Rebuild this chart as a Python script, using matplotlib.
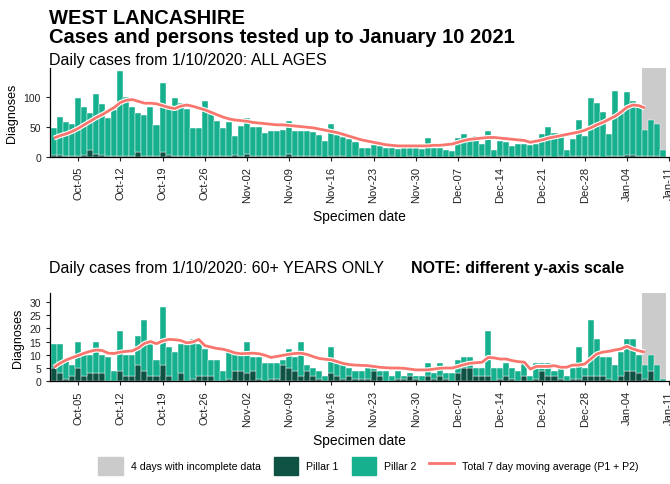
import numpy as np
import pandas as pd
import matplotlib
matplotlib.use("Agg")
import matplotlib.pyplot as plt
import matplotlib.dates as mdates
from matplotlib.patches import Patch
from matplotlib.lines import Line2D

plt.rcParams['font.family'] = ['Liberation Sans', 'DejaVu Sans']

dates = pd.date_range('2020-10-01', '2021-01-10', freq='D')
tick_dates = pd.date_range('2020-10-05', '2021-01-11', freq='7D')
incomplete_start = pd.Timestamp('2021-01-07')
incomplete_end = pd.Timestamp('2021-01-10')

# all ages: total cases (pillar 1 + pillar 2) and pillar 1
all_total = [48, 66, 57, 55, 97, 82, 72, 105, 88, 64, 78, 142, 100, 82, 72, 70, 82, 53, 122, 79,
             97, 90, 79, 48, 48, 92, 71, 60, 48, 57, 34, 51, 64, 50, 50, 40, 43, 42, 44, 59,
             43, 42, 42, 41, 36, 26, 54, 36, 32, 30, 24, 14, 15, 19, 18, 15, 14, 13, 14, 14,
             14, 13, 31, 14, 14, 11, 9, 31, 37, 33, 35, 21, 42, 11, 26, 24, 18, 21, 21, 19,
             21, 37, 50, 40, 38, 12, 29, 61, 34, 97, 89, 74, 38, 110, 75, 108, 92, 85, 44, 61,
             54, 12]
all_p1 = [3, 3, 2, 1, 2, 3, 12, 5, 3, 1, 2, 2, 2, 1, 8, 2, 2, 2, 8, 3,
          2, 2, 1, 0, 1, 1, 1, 1, 2, 1, 3, 1, 4, 1, 1, 1, 1, 1, 2, 4,
          2, 1, 1, 1, 1, 0, 1, 1, 1, 0, 1, 0, 1, 1, 0, 0, 1, 0, 0, 1,
          0, 0, 1, 0, 0, 0, 0, 1, 1, 1, 0, 1, 1, 0, 1, 1, 0, 1, 0, 1,
          0, 1, 1, 0, 1, 0, 1, 2, 1, 1, 1, 0, 1, 2, 1, 3, 3, 1, 1, 1,
          1, 0]
all_ma = [31, 35, 38, 42, 47, 53, 59, 65, 70, 76, 82, 90, 94, 95, 92, 89, 89, 88, 85, 82,
          80, 84, 86, 84, 81, 78, 74, 70, 66, 63, 61, 60, 59, 57, 56, 55, 54, 53, 53, 52,
          51, 50, 49, 48, 46, 44, 42, 40, 37, 34, 31, 28, 26, 24, 22, 20, 19, 18, 18, 18,
          18, 18, 18, 19, 19, 20, 21, 24, 27, 29, 30, 31, 32, 32, 31, 30, 29, 28, 27, 24,
          26, 28, 31, 33, 35, 37, 39, 41, 44, 48, 53, 57, 62, 67, 74, 82, 86, 85, 81]

# 60+ years only
old_total = [14, 14, 8, 6, 15, 10, 10, 15, 10, 9, 4, 19, 10, 10, 17, 23, 14, 8, 28, 13,
             11, 14, 14, 16, 14, 12, 8, 8, 4, 11, 11, 10, 15, 9, 9, 7, 7, 7, 8, 12,
             9, 15, 6, 5, 4, 2, 13, 7, 6, 5, 4, 4, 5, 5, 4, 4, 2, 4, 2, 3,
             2, 2, 7, 3, 7, 3, 3, 8, 9, 9, 5, 5, 19, 5, 5, 7, 5, 4, 7, 2,
             7, 7, 7, 4, 6, 2, 5, 13, 5, 23, 16, 9, 9, 6, 11, 16, 16, 10, 6, 10,
             6, 1]
old_p1 = [5, 3, 1, 2, 5, 2, 3, 3, 3, 0, 0, 4, 2, 2, 6, 4, 2, 2, 6, 2,
          0, 3, 0, 1, 2, 2, 2, 0, 0, 1, 4, 4, 3, 4, 1, 0, 1, 1, 6, 5,
          4, 2, 4, 2, 1, 0, 3, 2, 1, 2, 1, 1, 1, 4, 2, 0, 0, 1, 1, 2,
          1, 0, 2, 1, 2, 1, 0, 3, 5, 5, 2, 2, 2, 0, 1, 2, 1, 0, 2, 0,
          1, 4, 2, 2, 1, 0, 1, 1, 2, 2, 2, 2, 1, 0, 2, 4, 4, 3, 1, 4,
          0, 0]
old_ma = [5.3, 6.8, 8.0, 8.9, 9.7, 10.6, 11.3, 11.8, 11.6, 10.6, 10.5, 11.0, 11.3, 11.5, 12.6, 14.3, 15.0, 14.2, 15.2, 15.8,
          15.7, 15.4, 14.5, 14.8, 15.8, 13.5, 12.9, 12.4, 12.1, 11.5, 10.7, 10.4, 10.5, 10.6, 10.4, 9.8, 9.0, 9.4, 9.8, 10.2,
          10.5, 10.6, 10.1, 9.3, 8.6, 8.3, 8.1, 7.4, 6.7, 6.3, 6.1, 6.0, 5.9, 5.6, 5.3, 5.1, 5.0, 5.0, 4.9, 4.6,
          4.3, 4.3, 4.3, 4.6, 4.9, 5.0, 5.0, 5.6, 6.3, 6.8, 7.0, 7.2, 9.0, 8.8, 8.4, 8.4, 7.8, 7.4, 7.2, 4.6,
          5.6, 5.6, 5.6, 5.9, 5.3, 5.3, 6.1, 6.1, 6.5, 8.4, 10.3, 11.0, 11.3, 11.8, 12.2, 13.2, 12.2, 11.5, 11.0]

p1_col = '#0d5243'
p2_col = '#17b08e'
ma_col = '#f8766d'
grey_col = '#cbcbcb'
txt_col = '#222222'

fig = plt.figure(figsize=(6.7, 4.85), dpi=100)
ax1 = fig.add_axes([0.0746, 0.6748, 0.924, 0.1823])
ax2 = fig.add_axes([0.0746, 0.2118, 0.924, 0.1814])


def draw(ax, total, p1, ma, ymax, yticks):
    p1 = np.array(p1)
    p2 = np.array(total) - p1
    ax.axvspan(incomplete_start - pd.Timedelta(hours=12), incomplete_end + pd.Timedelta(hours=12),
               color=grey_col, lw=0, zorder=0)
    ax.bar(dates, p1, width=1, color=p1_col, edgecolor='white', lw=0.3, zorder=2)
    ax.bar(dates, p2, width=1, bottom=p1, color=p2_col, edgecolor='white', lw=0.3, zorder=2)
    ax.plot(dates[:len(ma)], ma, color='white', lw=3.6, zorder=3, solid_capstyle='butt')
    ax.plot(dates[:len(ma)], ma, color=ma_col, lw=2, zorder=4, solid_capstyle='butt')
    ax.set_xlim(dates[0] - pd.Timedelta(hours=16), dates[0] + pd.Timedelta(days=102))
    ax.set_ylim(0, ymax)
    ax.set_yticks(yticks)
    ax.set_xticks(tick_dates)
    ax.xaxis.set_major_formatter(mdates.DateFormatter('%b-%d'))
    ax.tick_params(axis='x', rotation=90, labelsize=8, colors=txt_col, length=3, width=0.8)
    ax.tick_params(axis='y', labelsize=7.5, colors=txt_col, length=3, width=0.8)
    for s in ['top', 'right']:
        ax.spines[s].set_visible(False)
    for s in ['left', 'bottom']:
        ax.spines[s].set_linewidth(0.9)
    ax.set_ylabel('Diagnoses', fontsize=9, labelpad=4)
    ax.set_xlabel('Specimen date', fontsize=10, labelpad=5)


draw(ax1, all_total, all_p1, all_ma, 147, [0, 50, 100])
draw(ax2, old_total, old_p1, old_ma, 33.2, [0, 5, 10, 15, 20, 25, 30])

fig.text(0.073, 1 - 18 / 485, 'WEST LANCASHIRE', fontsize=14.5, fontweight='bold', va='center')
fig.text(0.073, 1 - 38 / 485, 'Cases and persons tested up to January 10 2021', fontsize=14.5,
         fontweight='bold', va='center')
fig.text(0.073, 1 - 61 / 485, 'Daily cases from 1/10/2020: ALL AGES', fontsize=11.5, va='center')
fig.text(0.073, 1 - 268 / 485, 'Daily cases from 1/10/2020: 60+ YEARS ONLY', fontsize=11.5, va='center')
fig.text(411 / 670, 1 - 268 / 485, 'NOTE: different y-axis scale', fontsize=11.5, fontweight='bold',
         va='center')

handles = [Patch(color=grey_col), Patch(color=p1_col), Patch(color=p2_col),
           Line2D([], [], color=ma_col, lw=2)]
labels = ['4 days with incomplete data', 'Pillar 1', 'Pillar 2', 'Total 7 day moving average (P1 + P2)']
fig.legend(handles, labels, loc='center', bbox_to_anchor=(0.55, 1 - 467 / 485), ncol=4,
           frameon=False, fontsize=7.6, handlelength=2.3, handleheight=2.3,
           handletextpad=0.8, columnspacing=1.2)

fig.savefig('out.png', dpi=100)
